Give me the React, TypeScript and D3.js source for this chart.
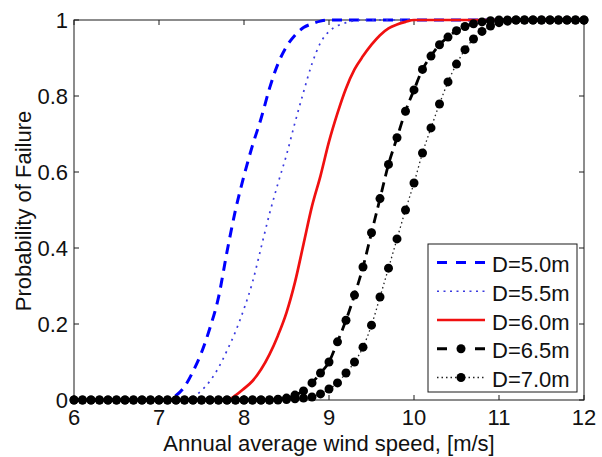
import React from "react";
import * as d3 from "d3";

// Annual average wind speed grid, 6.0 .. 12.0 m/s in 0.1 steps
const speeds: number[] = d3.range(0, 61).map((i) => 6 + i / 10);

// Probability of failure for each rotor diameter (one value per speed)
const pD50: number[] = [
  0, 0, 0, 0, 0, 0, 0, 0, 0, 0, 0,
  0.003, 0.012, 0.035, 0.075, 0.125, 0.19, 0.27, 0.39, 0.5, 0.59,
  0.67, 0.74, 0.82, 0.885, 0.93, 0.96, 0.98, 0.99, 0.997, 1,
  1, 1, 1, 1, 1, 1, 1, 1, 1, 1,
  1, 1, 1, 1, 1, 1, 1, 1, 1, 1,
  1, 1, 1, 1, 1, 1, 1, 1, 1, 1,
];
const pD55: number[] = [
  0, 0, 0, 0, 0, 0, 0, 0, 0, 0, 0,
  0, 0, 0, 0.008, 0.025, 0.05, 0.085, 0.13, 0.18, 0.24,
  0.31, 0.4, 0.49, 0.57, 0.645, 0.73, 0.81, 0.885, 0.94, 0.97,
  0.985, 0.993, 0.998, 1, 1, 1, 1, 1, 1, 1,
  1, 1, 1, 1, 1, 1, 1, 1, 1, 1,
  1, 1, 1, 1, 1, 1, 1, 1, 1, 1,
];
const pD60: number[] = [
  0, 0, 0, 0, 0, 0, 0, 0, 0, 0, 0,
  0, 0, 0, 0, 0, 0, 0, 0, 0.012, 0.03,
  0.05, 0.08, 0.12, 0.17, 0.23, 0.31, 0.41, 0.51, 0.59, 0.68,
  0.755, 0.82, 0.87, 0.905, 0.935, 0.96, 0.978, 0.988, 0.995, 1,
  1, 1, 1, 1, 1, 1, 1, 1, 1, 1,
  1, 1, 1, 1, 1, 1, 1, 1, 1, 1,
];
const pD65: number[] = [
  0, 0, 0, 0, 0, 0, 0, 0, 0, 0, 0,
  0, 0, 0, 0, 0, 0, 0, 0, 0, 0,
  0, 0, 0, 0.002, 0.005, 0.013, 0.024, 0.045, 0.071, 0.1,
  0.153, 0.21, 0.276, 0.35, 0.44, 0.53, 0.62, 0.69, 0.76, 0.816,
  0.87, 0.905, 0.935, 0.955, 0.972, 0.983, 0.99, 0.995, 0.998, 1,
  1, 1, 1, 1, 1, 1, 1, 1, 1, 1,
];
const pD70: number[] = [
  0, 0, 0, 0, 0, 0, 0, 0, 0, 0, 0,
  0, 0, 0, 0, 0, 0, 0, 0, 0, 0,
  0, 0, 0, 0, 0.001, 0.003, 0.005, 0.008, 0.016, 0.029,
  0.045, 0.071, 0.1, 0.139, 0.197, 0.271, 0.347, 0.424, 0.5, 0.571,
  0.65, 0.716, 0.779, 0.837, 0.884, 0.922, 0.95, 0.97, 0.984, 0.993,
  0.997, 1, 1, 1, 1, 1, 1, 1, 1, 1,
];

const seriesLabels: string[] = ["D=5.0m", "D=5.5m", "D=6.0m", "D=6.5m", "D=7.0m"];
const xTicks: number[] = [6, 7, 8, 9, 10, 11, 12];
const yTicks: number[] = [0, 0.2, 0.4, 0.6, 0.8, 1];
const xTitle = "Annual average wind speed, [m/s]";
const yTitle = "Probability of Failure";

type Style = {
  color: string;
  width: number;
  dash?: string;
  legendDash?: string;
  marker: boolean;
};

const styles: Style[] = [
  { color: "#0000ff", width: 3, dash: "10,7", legendDash: "10,9", marker: false },
  { color: "#3a3ae0", width: 1.7, dash: "2,5", legendDash: "2,4.5", marker: false },
  { color: "#f01010", width: 2.7, marker: false },
  { color: "#000000", width: 2.8, dash: "10,6", legendDash: "10,28", marker: true },
  { color: "#222222", width: 1.3, dash: "1.5,3", legendDash: "1.5,3", marker: true },
];

const FONT = "'Liberation Sans', Arial, Helvetica, sans-serif";

export default function App() {
  const width = 602;
  const height = 457;
  const left = 74;
  const right = 584;
  const top = 20;
  const bottom = 400;

  const x = d3.scaleLinear().domain([6, 12]).range([left, right]);
  const y = d3.scaleLinear().domain([0, 1]).range([bottom, top]);

  const allSeries = [pD50, pD55, pD60, pD65, pD70];
  const line = d3
    .line<number>()
    .x((_, i) => x(speeds[i]))
    .y((v) => y(v))
    .curve(d3.curveMonotoneX);

  const tickLen = 5;
  const markerR = 4.5;

  // legend geometry
  const lg = { x0: 428, y0: 244, x1: 577, y1: 392 };
  const rowY = (i: number) => 262.5 + i * 28.75;
  const sampleX0 = 437;
  const sampleX1 = 485;

  return (
    <svg
      width={width}
      height={height}
      style={{ position: "absolute", left: 0, top: 0, background: "#fff" }}
      fontFamily={FONT}
    >
      <rect x={0} y={0} width={width} height={height} fill="#fff" />

      {/* axes box */}
      <rect
        x={left}
        y={top}
        width={right - left}
        height={bottom - top}
        fill="#fff"
        stroke="#1a1a1a"
        strokeWidth={1}
      />

      {/* ticks on all four sides, pointing inward */}
      {xTicks.map((t) => (
        <g key={"xt" + t}>
          <line x1={x(t)} x2={x(t)} y1={bottom} y2={bottom - tickLen} stroke="#1a1a1a" />
          <line x1={x(t)} x2={x(t)} y1={top} y2={top + tickLen} stroke="#1a1a1a" />
          <text x={x(t)} y={425} fontSize={22} textAnchor="middle" fill="#111">
            {t}
          </text>
        </g>
      ))}
      {yTicks.map((t) => (
        <g key={"yt" + t}>
          <line x1={left} x2={left + tickLen} y1={y(t)} y2={y(t)} stroke="#1a1a1a" />
          <line x1={right} x2={right - tickLen} y1={y(t)} y2={y(t)} stroke="#1a1a1a" />
          <text x={68} y={y(t) + 7.8} fontSize={22} textAnchor="end" fill="#111">
            {d3.format("~g")(t)}
          </text>
        </g>
      ))}

      {/* curves */}
      {allSeries.map((vals, si) => {
        const st = styles[si];
        return (
          <g key={"s" + si}>
            <path
              d={line(vals) || ""}
              fill="none"
              stroke={st.color}
              strokeWidth={st.width}
              strokeDasharray={st.dash}
              strokeLinejoin="round"
            />
            {st.marker &&
              vals.map((v, i) => (
                <circle key={i} cx={x(speeds[i])} cy={y(v)} r={markerR} fill="#000" />
              ))}
          </g>
        );
      })}

      {/* axis titles */}
      <text x={(left + right) / 2} y={451} fontSize={22} textAnchor="middle" fill="#111">
        {xTitle}
      </text>
      <text
        transform={`translate(31,${(top + bottom) / 2 + 1}) rotate(-90)`}
        fontSize={22}
        textAnchor="middle"
        fill="#111"
      >
        {yTitle}
      </text>

      {/* legend */}
      <rect
        x={lg.x0}
        y={lg.y0}
        width={lg.x1 - lg.x0}
        height={lg.y1 - lg.y0}
        fill="#fff"
        stroke="#1a1a1a"
        strokeWidth={1}
      />
      {seriesLabels.map((lab, i) => {
        const st = styles[i];
        const yy = rowY(i);
        return (
          <g key={"lg" + i}>
            <line
              x1={sampleX0}
              x2={sampleX1}
              y1={yy}
              y2={yy}
              stroke={st.color}
              strokeWidth={st.width}
              strokeDasharray={st.legendDash}
            />
            {st.marker && (
              <circle cx={(sampleX0 + sampleX1) / 2} cy={yy} r={markerR} fill="#000" />
            )}
            <text x={492} y={yy + 9.5} fontSize={22} fill="#111">
              {lab}
            </text>
          </g>
        );
      })}
    </svg>
  );
}
